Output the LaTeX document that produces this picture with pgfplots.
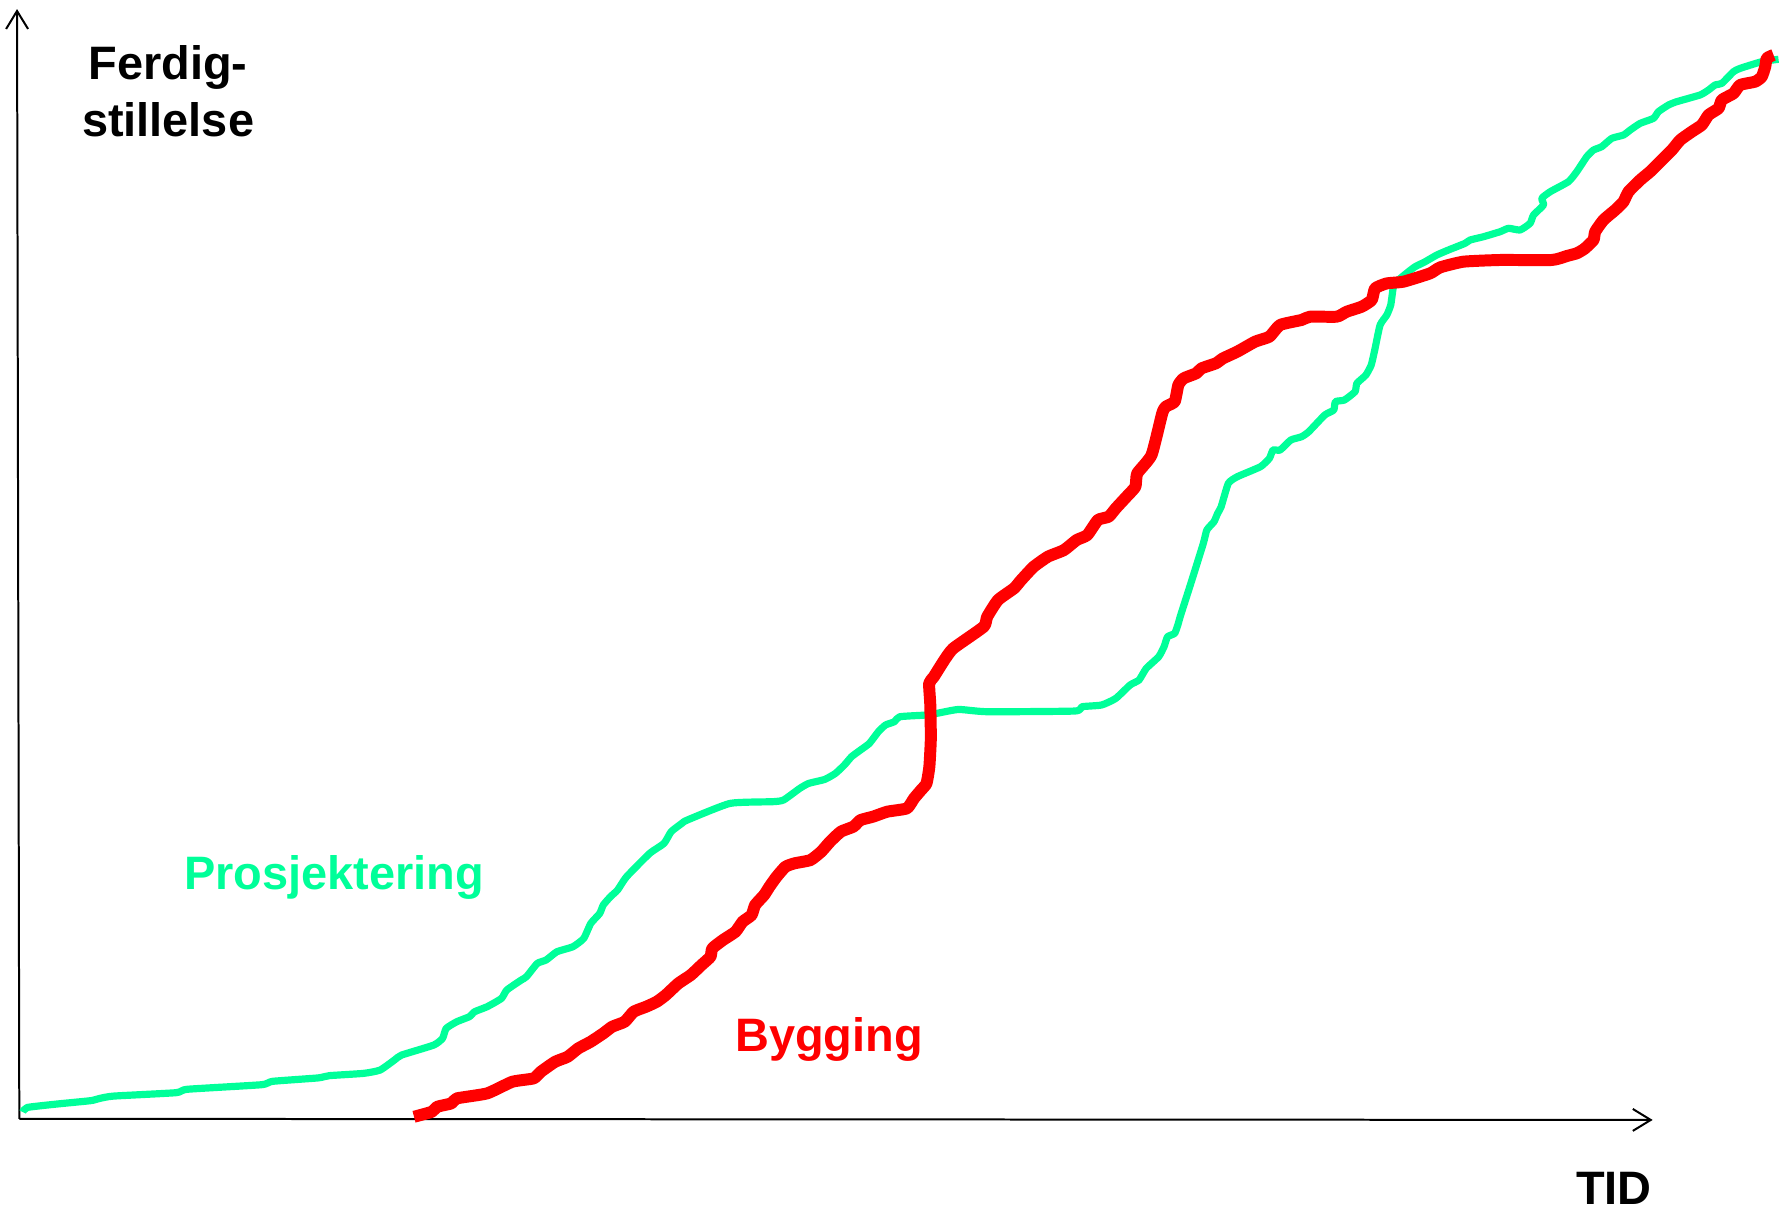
\documentclass[border=0pt]{standalone}
\usepackage{fontspec}
\setmainfont{Liberation Sans}
\usepackage{pgfplots}
\pgfplotsset{compat=1.18}
\usetikzlibrary{arrows.meta}
\definecolor{prosj}{RGB}{0,255,153}
\definecolor{bygg}{RGB}{255,0,0}
\begin{document}
\begin{tikzpicture}
\begin{axis}[
  scale only axis, width=15.68cm, height=10.66cm,
  xmin=0, xmax=1568, ymin=0, ymax=1066, y dir=reverse,
  hide axis, clip=false,
  every node/.style={inner sep=0pt, outer sep=0pt},
]
% axes
\addplot[black, line width=0.5pt, -{Straight Barb[length=4.5pt,width=5.5pt]}] coordinates {(17,985) (15,8)};
\addplot[black, line width=0.5pt, -{Straight Barb[length=4.5pt,width=5.5pt]}] coordinates {(17,985) (1455,986)};
% Prosjektering
\addplot[prosj, line width=1.8pt, line join=round, smooth, tension=0.3] coordinates {
(20,979) (24,975) (50,972) (80,969) (88,967) (100,965) (155,962) (165,959) (230,955) (240,952) (280,949) (290,947) (320,945) (334.6,942.1) (347.2,933.3) (353.5,928.9) (381.8,920.1) (389.6,914.2) (392.8,905.4) (402.2,899.5) (413.2,895.1) (417.9,890.7) (428.9,886.3) (441.5,879) (446.2,871.6) (458.8,862.9) (463.5,859.9) (473,848.2) (480.8,845.2) (490.3,837.9) (504.4,833.5) (513.9,826.2) (520.1,813) (528,804.2) (531.1,796.8) (537.4,789.5) (543.7,783.6) (551.6,771.9) (572,751.3) (584.6,742.5) (590.9,732.2) (600.3,724.9) (605,722) (642.8,707.3) (680.5,705.8) (689.9,704.3) (704.1,694.1) (712,689.7) (726.1,686.2) (735.5,680.9) (743.4,673.5) (749.7,666.2) (757.6,660.3) (765.4,654.5) (773.3,644.2) (779.6,638.3) (787.4,635.4) (792.1,631) (815.7,629.5) (825,628) (844,624.6) (869.1,626.6) (946.2,626) (952.5,622.2) (969.8,620.7) (982.3,614.9) (994.9,603.1) (1002.8,598.7) (1009.1,588.5) (1020.1,578.2) (1024.8,569.4) (1027.9,560.6) (1034.2,557.6) (1037.4,548.8) (1039,543) (1048.4,513.6) (1059.4,478.4) (1062.5,466.6) (1068.8,459.3) (1072,452) (1075.1,446.1) (1081.4,425.6) (1089.3,419.7) (1109.7,410.9) (1117.6,403.5) (1120.7,396.2) (1127,396.2) (1136.4,387.4) (1145.9,384.5) (1152.2,380.1) (1166.3,365.4) (1174.2,361) (1175.7,353.6) (1183.6,352.2) (1193,344.8) (1194.6,337.5) (1202.5,330.2) (1207.2,321.4) (1210.3,308.2) (1215,286.2) (1220.9,277.4) (1224.4,268.5) (1226.8,252.4) (1231.2,246.5) (1240,239.2) (1245.9,234.8) (1254.7,230.4) (1265,224.5) (1275.2,220.1) (1289.9,214.2) (1294.3,211.3) (1306.1,208.4) (1320.7,204) (1328.1,201) (1338.3,202.5) (1347.1,196.6) (1350.1,189.3) (1358.9,180.5) (1357.4,174.6) (1364.8,168.8) (1380.9,159.9) (1388.2,151.1) (1397,137.9) (1402.9,132.1) (1410.2,129.1) (1419,121.8) (1429.3,118.9) (1435.2,114.5) (1444,108.6) (1455.7,104.2) (1460.1,98.3) (1469,92.4) (1476.3,89.5) (1496.8,83.6) (1504.2,79.2) (1510,74.8) (1515.9,73.4) (1526.2,63.1) (1532,60.2) (1551.1,54.3) (1565.8,52.2)
};
% Bygging
\addplot[bygg, line width=3.0pt, line join=round, smooth, tension=0.3] coordinates {
(364.5,983.2) (380.2,978.8) (384.9,974.4) (397.5,971.4) (402.2,967) (428.9,962.6) (451,952.4) (469.8,949.4) (476.1,943.6) (488.7,934.8) (499.7,930.4) (509.1,923) (520.1,917.1) (531.1,909.8) (539,903.9) (550,899.5) (557.9,890.7) (568.9,886.3) (578.3,881.9) (586.2,876) (597.2,865.8) (608.2,858.4) (617.6,849.6) (625.5,842.3) (627.1,835) (636.5,827.6) (647.5,820.3) (653.8,811.5) (661.7,805.6) (664.8,796.8) (672.7,788) (677.4,780.7) (683.7,771.9) (691.5,763.1) (699.4,760.1) (713.5,757.2) (723,749.8) (730.8,741) (740.3,732.2) (751.3,727.8) (757.6,722) (768.6,719) (781.2,714.6) (798.4,711.7) (804.7,702.9) (811,695.5) (815.7,689.7) (818.2,675) (819.5,650) (819,620) (818,601.7) (822,596) (831.4,581.1) (839.3,570.8) (866,551.8) (869.1,543) (878.6,528.3) (892.7,518) (899,510.7) (910,499) (922.6,490.1) (936.7,484.3) (947.8,475.5) (957.2,471.1) (966.6,457.8) (976.1,454.9) (982.3,447.6) (991.8,437.3) (999.6,428.5) (1001.2,416.8) (1013.8,400.6) (1023.2,363.9) (1026.4,358) (1034.2,353.6) (1037.4,339) (1042.1,333.1) (1053.1,328.7) (1057.8,324.3) (1070.4,319.9) (1076.7,315.5) (1089.3,309.6) (1105,300.8) (1117.6,296.4) (1127,286.1) (1145.9,281.7) (1153.4,278.8) (1176.9,278.8) (1185.7,274.4) (1198.9,270) (1207.7,264.1) (1210.6,253.9) (1220.9,249.5) (1235.6,248) (1259,240.7) (1267.9,235.4) (1288.4,230.4) (1320.7,228.9) (1366.2,228.9) (1379.4,225.4) (1388.2,223) (1395,219) (1402.9,211.3) (1404.4,204) (1411.7,193.7) (1422,184.9) (1429.3,177.6) (1433.7,168.8) (1444,158.5) (1452.8,151.1) (1461.6,142.3) (1471.9,132.1) (1479.2,123.3) (1489.5,115.9) (1498.3,110) (1504.2,101.2) (1513,95.4) (1515.9,88) (1526.2,82.2) (1532,74.8) (1545.3,71.9) (1551.1,67.5) (1554.1,58.7) (1555.5,51.3) (1561.4,48.4)
};
\node[anchor=base, font=\fontsize{11.75}{14}\selectfont\bfseries] at (axis cs:148,70) {Ferdig-};
\node[anchor=base, font=\fontsize{11.75}{14}\selectfont\bfseries] at (axis cs:148,120) {stillelse};
\node[anchor=base, font=\fontsize{11.75}{14}\selectfont\bfseries, text=prosj] at (axis cs:294,783) {Prosjektering};
\node[anchor=base, font=\fontsize{11.75}{14}\selectfont\bfseries, text=bygg] at (axis cs:730,926) {Bygging};
\node[anchor=base, font=\fontsize{11.75}{14}\selectfont\bfseries] at (axis cs:1421,1060) {TID};
\end{axis}
\pgfresetboundingbox
\path (current axis.south west) rectangle (current axis.north east);
\end{tikzpicture}
\end{document}
